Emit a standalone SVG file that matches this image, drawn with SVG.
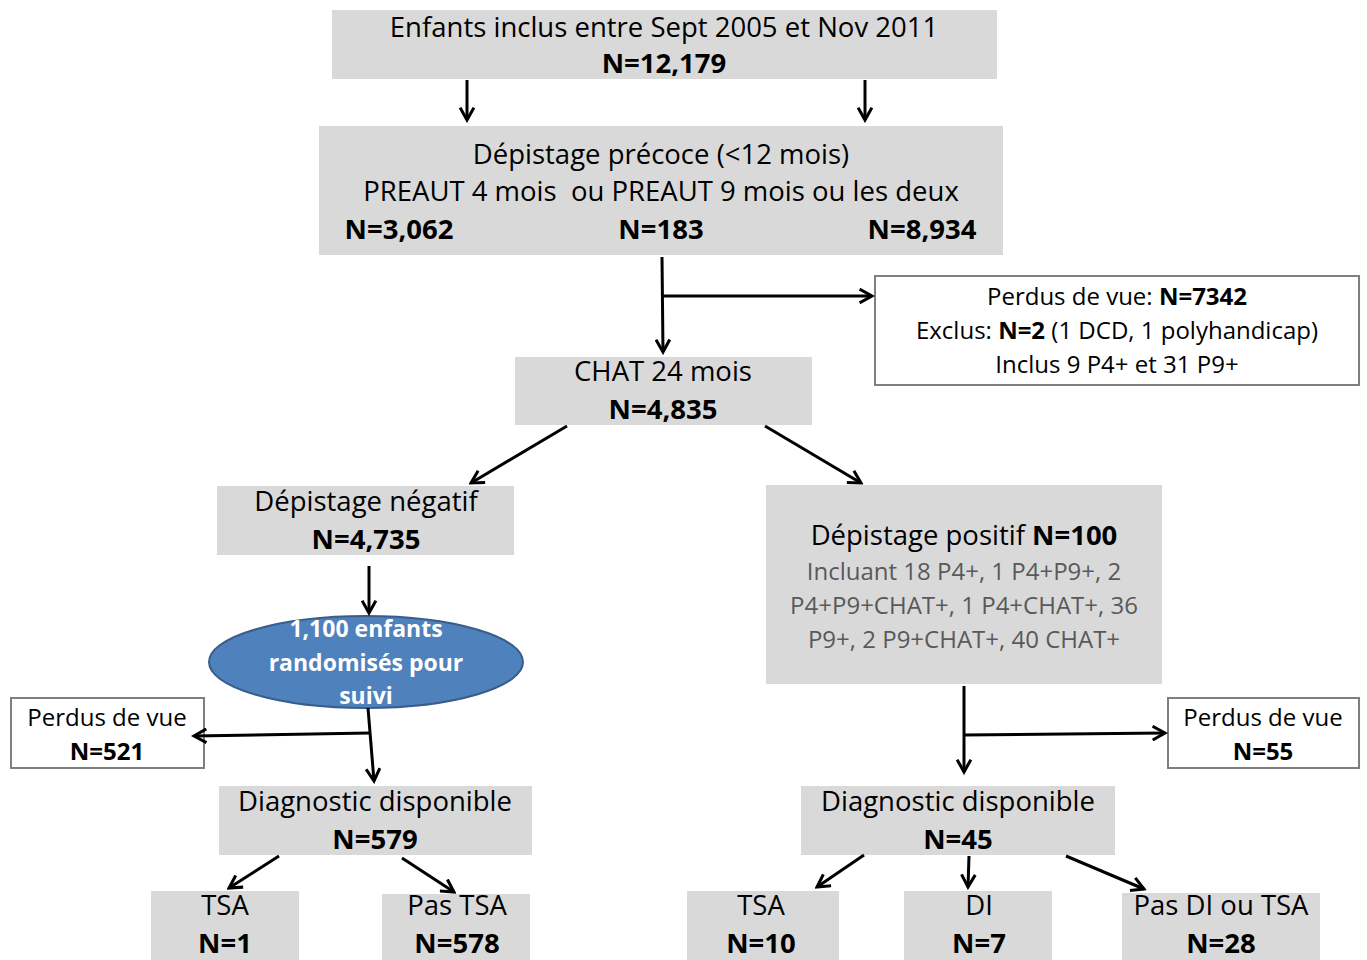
<svg xmlns="http://www.w3.org/2000/svg" width="1367" height="960" viewBox="0 0 1367 960">
<defs>
<marker id="ah" viewBox="0 0 12 12" refX="10" refY="6" markerWidth="5.5" markerHeight="5.5" orient="auto" markerUnits="strokeWidth">
<path d="M1,1 L10,6 L1,11" fill="none" stroke="#000" stroke-width="2.2"/>
</marker>
<style>
.g{fill:#d9d9d9;}
.w{fill:#fff;stroke:#7f7f7f;stroke-width:2;}
text{font-family:"Open Sans","Noto Sans",sans-serif;text-anchor:middle;fill:#000;}
.t{font-size:27.5px;}
.s{font-size:24px;}
.b{font-weight:bold;}
.gr{fill:#595959;}
.wt{fill:#fff;font-weight:bold;font-size:23px;}
.ca{stroke:#000;stroke-width:3;fill:none;marker-end:url(#ah);}
</style>
</defs>
<g id="n1">
<rect class="g" x="332" y="10" width="665" height="69"/>
<text class="t" x="664" y="37">Enfants inclus entre Sept 2005 et Nov 2011</text>
<text class="t b" x="664" y="73">N=12,179</text>
</g>
<g id="n2">
<rect class="g" x="319" y="126" width="684" height="129"/>
<text class="t" x="661" y="164">Dépistage précoce (&lt;12 mois)</text>
<text class="t" x="661" y="201" xml:space="preserve">PREAUT 4 mois  ou PREAUT 9 mois ou les deux</text>
<text class="t b" x="399" y="239">N=3,062</text>
<text class="t b" x="661" y="239">N=183</text>
<text class="t b" x="922" y="239">N=8,934</text>
</g>
<g id="n3">
<rect class="w" x="875" y="276" width="484" height="109"/>
<text class="s" x="1117" y="305">Perdus de vue: <tspan class="b">N=7342</tspan></text>
<text class="s" x="1117" y="339">Exclus: <tspan class="b">N=2</tspan> (1 DCD, 1 polyhandicap)</text>
<text class="s" x="1117" y="373">Inclus 9 P4+ et 31 P9+</text>
</g>
<g id="n4">
<rect class="g" x="515" y="357" width="297" height="68"/>
<text class="t" x="663" y="381">CHAT 24 mois</text>
<text class="t b" x="663" y="419">N=4,835</text>
</g>
<g id="n5">
<rect class="g" x="217" y="486" width="297" height="69"/>
<text class="t" x="366" y="511">Dépistage négatif</text>
<text class="t b" x="366" y="549">N=4,735</text>
</g>
<g id="n6">
<rect class="g" x="766" y="485" width="396" height="199"/>
<text class="t" x="964" y="545">Dépistage positif <tspan class="b">N=100</tspan></text>
<text class="s gr" x="964" y="580">Incluant 18 P4+, 1 P4+P9+, 2</text>
<text class="s gr" x="964" y="614">P4+P9+CHAT+, 1 P4+CHAT+, 36</text>
<text class="s gr" x="964" y="648">P9+, 2 P9+CHAT+, 40 CHAT+</text>
</g>
<g id="n7">
<ellipse cx="366" cy="662" rx="157" ry="46" fill="#4f81bd" stroke="#385d8a" stroke-width="2"/>
<text class="wt" x="366" y="637">1,100 enfants</text>
<text class="wt" x="366" y="671">randomisés pour</text>
<text class="wt" x="366" y="704">suivi</text>
</g>
<g id="n8">
<rect class="w" x="11" y="698" width="193" height="70"/>
<text class="s" x="107" y="726">Perdus de vue</text>
<text class="s b" x="107" y="760">N=521</text>
</g>
<g id="n9">
<rect class="w" x="1168" y="698" width="191" height="70"/>
<text class="s" x="1263" y="726">Perdus de vue</text>
<text class="s b" x="1263" y="760">N=55</text>
</g>
<g id="n10">
<rect class="g" x="219" y="786" width="313" height="69"/>
<text class="t" x="375" y="811">Diagnostic disponible</text>
<text class="t b" x="375" y="849">N=579</text>
</g>
<g id="n11">
<rect class="g" x="801" y="786" width="314" height="69"/>
<text class="t" x="958" y="811">Diagnostic disponible</text>
<text class="t b" x="958" y="849">N=45</text>
</g>
<g id="n12">
<rect class="g" x="151" y="891" width="148" height="69"/>
<text class="t" x="225" y="915">TSA</text>
<text class="t b" x="225" y="953">N=1</text>
</g>
<g id="n13">
<rect class="g" x="382" y="894" width="148" height="66"/>
<text class="t" x="457" y="915">Pas TSA</text>
<text class="t b" x="457" y="953">N=578</text>
</g>
<g id="n14">
<rect class="g" x="687" y="891" width="152" height="69"/>
<text class="t" x="761" y="915">TSA</text>
<text class="t b" x="761" y="953">N=10</text>
</g>
<g id="n15">
<rect class="g" x="904" y="891" width="148" height="69"/>
<text class="t" x="979" y="915">DI</text>
<text class="t b" x="979" y="953">N=7</text>
</g>
<g id="n16">
<rect class="g" x="1122" y="893" width="198" height="67"/>
<text class="t" x="1221" y="915">Pas DI ou TSA</text>
<text class="t b" x="1221" y="953">N=28</text>
</g>
<g id="connectors">
<line class="ca" x1="467" y1="80" x2="467" y2="120"/>
<line class="ca" x1="865" y1="80" x2="865" y2="120"/>
<line class="ca" x1="662" y1="257" x2="663" y2="352"/>
<line class="ca" x1="663" y1="296" x2="872" y2="296"/>
<line class="ca" x1="567" y1="426" x2="471" y2="483"/>
<line class="ca" x1="765" y1="426" x2="861" y2="483"/>
<line class="ca" x1="369" y1="566" x2="369" y2="613"/>
<line class="ca" x1="368" y1="708" x2="374" y2="781"/>
<line class="ca" x1="370" y1="733" x2="194" y2="736"/>
<line class="ca" x1="964" y1="686" x2="964" y2="772"/>
<line class="ca" x1="964" y1="735" x2="1165" y2="733"/>
<line class="ca" x1="279" y1="856" x2="229" y2="888"/>
<line class="ca" x1="402" y1="858" x2="454" y2="892"/>
<line class="ca" x1="864" y1="855" x2="817" y2="887"/>
<line class="ca" x1="969" y1="856" x2="968" y2="887"/>
<line class="ca" x1="1066" y1="856" x2="1144" y2="889"/>
</g>
</svg>
